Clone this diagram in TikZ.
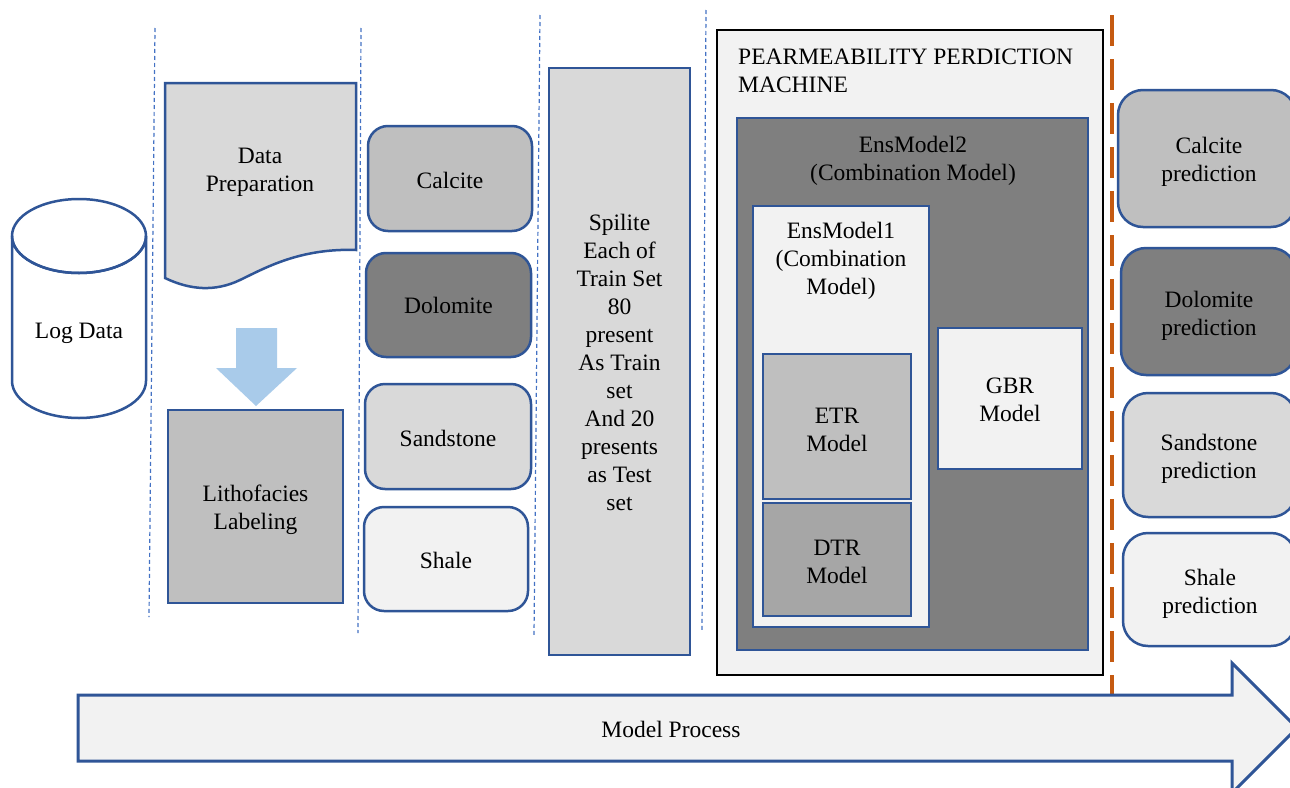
\documentclass[tikz,border=0pt]{standalone}
\usepackage{fontspec}
\setmainfont{Liberation Serif}
\definecolor{bordblue}{HTML}{2F5597}
\definecolor{dashblue}{HTML}{4472C4}
\definecolor{arrowblue}{HTML}{A9CBEA}
\definecolor{orangeline}{HTML}{C55A11}
\definecolor{gA}{HTML}{BFBFBF}
\definecolor{gB}{HTML}{7F7F7F}
\definecolor{gC}{HTML}{D9D9D9}
\definecolor{gD}{HTML}{F2F2F2}
\definecolor{gE}{HTML}{A6A6A6}
\newcommand{\fs}{\fontsize{23.5}{28}\selectfont}
\tikzset{
  bbox/.style={draw=bordblue, line width=2.5pt, inner sep=0pt},
  rbox/.style={bbox, rounded corners=20pt},
  pbox/.style={bbox, rounded corners=25pt},
  lbl/.style={inner sep=0pt, align=center, font=\fs},
  sepline/.style={draw=dashblue, line width=1.2pt, dash pattern=on 4pt off 3pt},
}
\begin{document}
\begin{tikzpicture}[x=1pt,y=-1pt]
\useasboundingbox (0,0) rectangle (1290,787);
\clip (0,0) rectangle (1290,787);
\fill[white] (0,0) rectangle (1290,787);

% separators
\coordinate (s1t) at (155,28); \coordinate (s1b) at (149,617);
\coordinate (s2t) at (361,28); \coordinate (s2b) at (358,633);
\coordinate (s3t) at (540,15); \coordinate (s3b) at (534,635);
\coordinate (s4t) at (706,10); \coordinate (s4b) at (702,630);
\draw[sepline] (s1t) -- (s1b);
\draw[sepline] (s2t) -- (s2b);
\draw[sepline] (s3t) -- (s3b);
\draw[sepline] (s4t) -- (s4b);

% cylinder
\draw[draw=bordblue, line width=2.5pt, fill=white]
  (12,236) -- (12,381) arc[start angle=180, end angle=0, x radius=67, y radius=37]
  -- (146,236) arc[start angle=0, end angle=180, x radius=67, y radius=37] -- cycle;
\draw[draw=bordblue, line width=2.5pt] (79,236) ellipse[x radius=67, y radius=37];
\node[lbl] (log) at (79,333) {Log Data};

% data preparation (document shape)
\draw[draw=bordblue, line width=2.5pt, fill=gC]
  (165,83) -- (356,83) -- (356,250)
  .. controls (300,248) and (265,268) .. (240,280)
  .. controls (215,292) and (190,290) .. (165,278) -- cycle;
\node[lbl] (prep) at (260,172) {Data\\Preparation};

% block arrow
\fill[arrowblue] (236,328) -- (277,328) -- (277,368) -- (297,368) -- (256,406)
  -- (216,368) -- (236,368) -- cycle;

\node[bbox, fill=gA, minimum width=175pt, minimum height=193pt] (litho) at (255.5,506.5) {};
\node[lbl] (lithot) at (255.5,510) {Lithofacies\\Labeling};

% lithology classes
\node[rbox, fill=gA, minimum width=164pt, minimum height=105pt] (calc) at (450,178.5) {};
\node[lbl] (calct) at (450,180.5) {Calcite};
\node[rbox, fill=gB, minimum width=165pt, minimum height=104pt] (dolo) at (448.5,305) {};
\node[lbl] (dolot) at (448.5,305.5) {Dolomite};
\node[rbox, fill=gC, minimum width=166pt, minimum height=105pt] (sand) at (448,436.5) {};
\node[lbl] (sandt) at (448,438.5) {Sandstone};
\node[rbox, fill=gD, minimum width=164pt, minimum height=104pt] (shale) at (446,559) {};
\node[lbl] (shalet) at (446,560) {Shale};

% split
\node[bbox, fill=gC, minimum width=141pt, minimum height=587pt] (split) at (619.5,361.5) {};
\node[lbl] (splitt) at (619.5,362.5)
  {Spilite\\Each of\\Train Set\\80\\present\\As Train\\set\\And 20\\presents\\as Test\\set};

% machine
\node[draw=black, line width=1.5pt, fill=gD, inner sep=0pt, minimum width=386pt, minimum height=645pt] (machine) at (910,352.5) {};
\node[lbl, anchor=west, align=left] (mtitle) at (738,71) {PEARMEABILITY PERDICTION\\MACHINE};
\node[bbox, fill=gB, minimum width=351pt, minimum height=532pt] (ens2) at (912.5,384) {};
\node[lbl] (ens2t) at (913,160.5) {EnsModel2\\(Combination Model)};
\node[bbox, fill=gD, minimum width=176pt, minimum height=421pt] (ens1) at (841,416.5) {};
\node[lbl] (ens1t) at (841,261) {EnsModel1\\(Combination\\Model)};
\node[bbox, fill=gA, minimum width=148pt, minimum height=145pt] (etr) at (837,426.5) {};
\node[lbl] (etrt) at (837,429.5) {ETR\\Model};
\node[bbox, fill=gE, minimum width=148pt, minimum height=113pt] (dtr) at (837,559.5) {};
\node[lbl] (dtrt) at (837,561.5) {DTR\\Model};
\node[bbox, fill=gD, minimum width=144pt, minimum height=141pt] (gbr) at (1010,398.5) {};
\node[lbl] (gbrt) at (1010,400) {GBR\\Model};

% orange divider
\coordinate (ot) at (1112,15); \coordinate (ob) at (1112,695);
\draw[draw=orangeline, line width=3.5pt, dash pattern=on 31pt off 13pt] (ot) -- (ob);

% predictions
\node[pbox, fill=gA, minimum width=178pt, minimum height=137pt] (pcalc) at (1207,158.5) {};
\node[lbl] (pcalct) at (1209,162) {Calcite\\prediction};
\node[pbox, fill=gB, minimum width=175pt, minimum height=127pt] (pdolo) at (1208.5,311.5) {};
\node[lbl] (pdolot) at (1209,316) {Dolomite\\prediction};
\node[pbox, fill=gC, minimum width=173pt, minimum height=124pt] (psand) at (1209.5,455) {};
\node[lbl] (psandt) at (1209,459) {Sandstone\\prediction};
\node[pbox, fill=gD, minimum width=173pt, minimum height=113pt] (pshale) at (1209.5,589.5) {};
\node[lbl] (pshalet) at (1210,594) {Shale\\prediction};

% process arrow
\draw[draw=bordblue, line width=3pt, fill=gD]
  (78,695) -- (1232,695) -- (1232,663) -- (1297,728) -- (1232,793) -- (1232,761) -- (78,761) -- cycle;
\node[lbl] (proc) at (671,729) {Model Process};
\end{tikzpicture}
\end{document}
